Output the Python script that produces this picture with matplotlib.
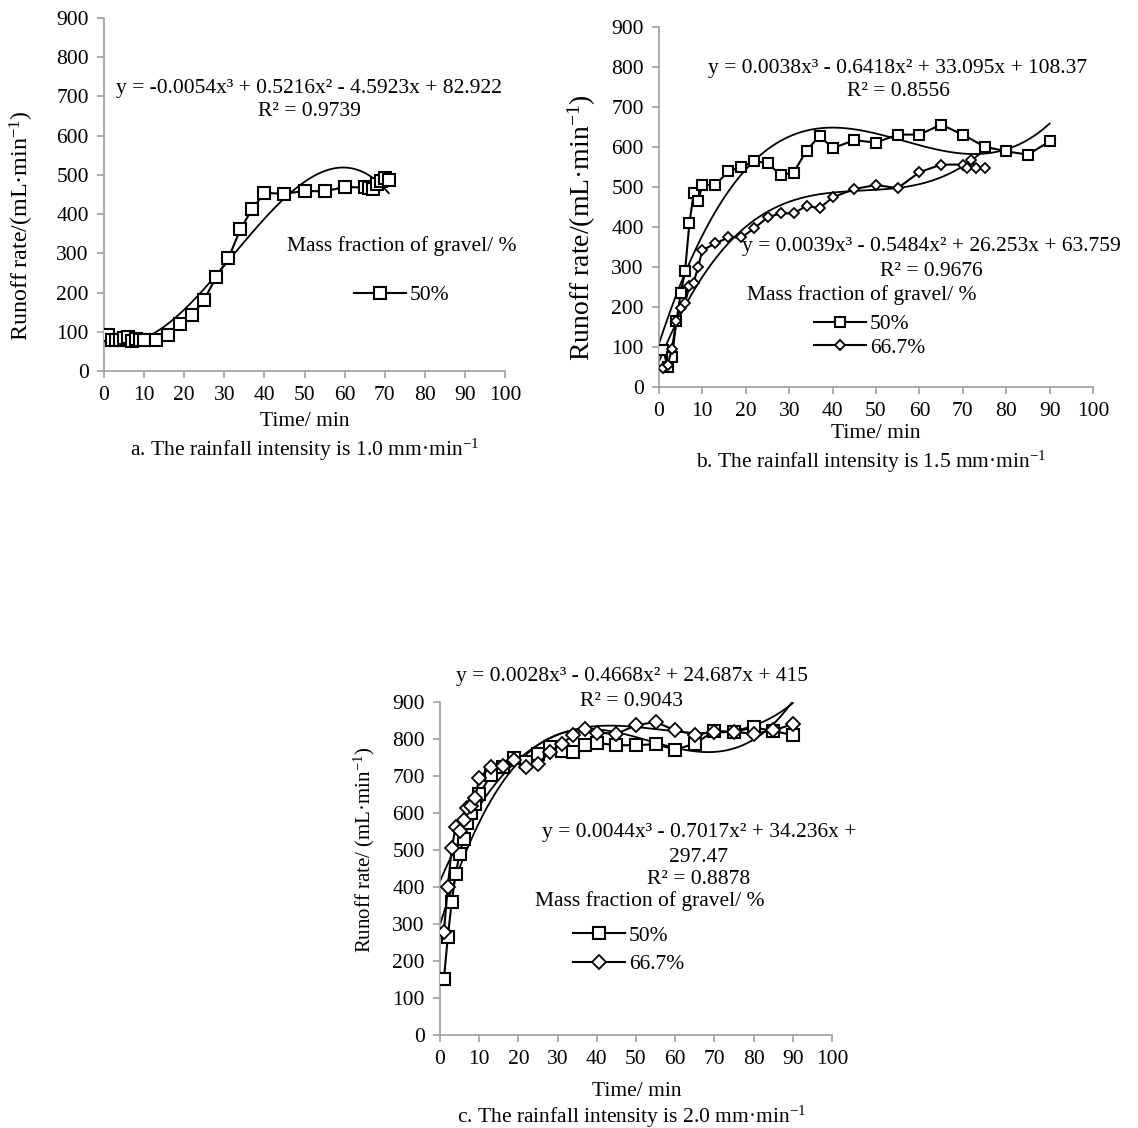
"""Runoff rate vs time under three rainfall intensities, with cubic trendlines."""

import matplotlib

matplotlib.use("Agg")
import matplotlib.pyplot as plt
import numpy as np

plt.rcParams["font.family"] = ["Liberation Serif", "DejaVu Serif"]
plt.rcParams["mathtext.default"] = "regular"

# ---- panel a: 1.0 mm/min, 50 % gravel
a_t = [1, 2, 3, 4, 5, 6, 7, 8, 9, 10, 13, 16, 19, 22, 25, 28, 31, 34, 37, 40,
       45, 50, 55, 60, 65, 66, 67, 68, 69, 70, 71]
a_q = [91, 78, 80, 80, 83, 86, 76, 82, 80, 79, 78, 91, 121, 142, 182, 240, 287, 361, 414, 454,
       452, 459, 458, 469, 468, 467, 463, 478, 485, 491, 486]
a_fit = [-0.0054, 0.5216, -4.5923, 82.922]

# ---- panel b: 1.5 mm/min
b_t50 = [1, 2, 3, 4, 5, 6, 7, 8, 9, 10, 13, 16, 19, 22, 25, 28, 31, 34, 37, 40,
         45, 50, 55, 60, 65, 70, 75, 80, 85, 90]
b_q50 = [92, 50, 75, 165, 234, 290, 409, 484, 465, 505, 506, 539, 551, 564, 560, 530, 536, 591, 628, 597,
         617, 611, 631, 631, 656, 631, 601, 589, 581, 614]
b_t67 = [1, 2, 3, 4, 5, 6, 7, 8, 9, 10, 13, 16, 19, 22, 25, 28, 31, 34, 37, 40,
         45, 50, 55, 60, 65, 70, 71, 72, 73, 75]
b_q67 = [48, 56, 96, 165, 198, 211, 252, 261, 300, 342, 359, 374, 374, 397, 424, 434, 434, 453, 447, 474,
         495, 505, 497, 537, 556, 556, 547, 568, 547, 547]
b_fit50 = [0.0038, -0.6418, 33.095, 108.37]
b_fit67 = [0.0039, -0.5484, 26.253, 63.759]

# ---- panel c: 2.0 mm/min
c_t50 = [1, 2, 3, 4, 5, 6, 7, 8, 9, 10, 13, 16, 19, 22, 25, 28, 31, 34, 37, 40,
         45, 50, 55, 60, 65, 70, 75, 80, 85, 90]
c_q50 = [150, 265, 360, 435, 488, 530, 572, 600, 625, 650, 702, 724, 748, 738, 760, 778, 768, 765, 783, 789,
         783, 783, 786, 771, 787, 822, 819, 831, 822, 810]
c_t67 = [1, 2, 3, 4, 5, 6, 7, 8, 9, 10, 13, 16, 19, 22, 25, 28, 31, 34, 37, 40,
         45, 50, 55, 60, 65, 70, 75, 80, 85, 90]
c_q67 = [278, 400, 505, 562, 550, 580, 612, 618, 640, 695, 724, 728, 743, 724, 733, 765, 787, 810, 828, 817,
         814, 837, 846, 823, 812, 819, 819, 814, 823, 840]
c_fit67 = [0.0028, -0.4668, 24.687, 415]
c_fit50 = [0.0044, -0.7017, 34.236, 297.47]

legend_title = "Mass fraction of gravel/ %"
ylab = "Runoff rate/(mL·min$^{-1}$)"
ylab_c = "Runoff rate/ (mL·min$^{-1}$)"
xlab = "Time/ min"

AXIS_GREY = "#a0a0a0"
FS = 15.5
W, H = 1138, 1128


def put(x, y, s, size=FS, **kw):
    # text placed by pixel position of its centre in the 1138x1128 canvas
    fig.text(x / W, 1 - y / H, s, ha="center", va="center", fontsize=size, **kw)


def style_axes(ax):
    ax.set_xlim(0, 100)
    ax.set_ylim(0, 900)
    ax.set_xticks(range(0, 101, 10))
    ax.set_yticks(range(0, 901, 100))
    for side in ("top", "right"):
        ax.spines[side].set_visible(False)
    for side in ("left", "bottom"):
        ax.spines[side].set_color(AXIS_GREY)
        ax.spines[side].set_linewidth(1.2)
    ax.tick_params(direction="out", length=5, width=1.2, color=AXIS_GREY,
                   labelsize=FS, pad=6)
    ax.patch.set_visible(False)


def trend(ax, coefs, tmax):
    tt = np.linspace(0, tmax, 300)
    ax.plot(tt, np.polyval(coefs, tt), color="black", lw=1.3, zorder=2)


def legend(handles, labels, x, y, spacing=0.3, hl=2.4):
    # x = pixel where the legend line starts, y = pixel centre of the entries
    fig.legend(handles, labels, loc="center left", bbox_to_anchor=(x / W, 1 - y / H),
               frameon=False, fontsize=FS, handlelength=hl, handletextpad=0.2,
               borderpad=0, borderaxespad=0, labelspacing=spacing)


sq = dict(marker="s", mfc="white", mec="black", mew=1.5, color="black", lw=1.5, zorder=3)
dm = dict(marker="D", mfc="white", mec="black", mew=1.3, color="black", lw=1.5, zorder=3)

fig = plt.figure(figsize=(W / 100, H / 100), dpi=100)

# ---------------- a
ax = fig.add_axes([104 / W, 1 - 371 / H, 401 / W, 353 / H])
style_axes(ax)
trend(ax, a_fit, max(a_t))
la, = ax.plot(a_t, a_q, ms=9, **sq)
put(309, 88, "y = -0.0054x³ + 0.5216x² - 4.5923x + 82.922")
put(309, 111, "R² = 0.9739")
put(402, 246, legend_title)
legend([la], ["50%"], 354, 295)
put(22, 226, ylab, size=17.3, rotation=90)
put(305, 422, xlab)
put(305, 450, "a. The rainfall intensity is 1.0 mm·min$^{-1}$")

# ---------------- b
ax = fig.add_axes([659 / W, 1 - 387 / H, 434 / W, 360 / H])
style_axes(ax)
trend(ax, b_fit50, max(b_t50))
trend(ax, b_fit67, max(b_t67))
lb1, = ax.plot(b_t50, b_q50, ms=7.5, **sq)
lb2, = ax.plot(b_t67, b_q67, ms=5, **dm)
put(898, 68, "y = 0.0038x³ - 0.6418x² + 33.095x + 108.37")
put(898, 91, "R² = 0.8556")
put(931, 247, "y = 0.0039x³ - 0.5484x² + 26.253x + 63.759")
put(931, 271, "R² = 0.9676")
put(862, 295, legend_title)
legend([lb1, lb2], ["50%", "66.7%"], 814, 336, spacing=0.15, hl=2.4)
put(582, 228, ylab, size=20, rotation=90)
put(876, 434, xlab)
put(871, 462, "b. The rainfall intensity is 1.5 mm·min$^{-1}$")

# ---------------- c
ax = fig.add_axes([440 / W, 1 - 1034.5 / H, 392 / W, 332.5 / H])
style_axes(ax)
trend(ax, c_fit67, max(c_t67))
trend(ax, c_fit50, max(c_t50))
lc1, = ax.plot(c_t50, c_q50, ms=9, **sq)
lc2, = ax.plot(c_t67, c_q67, ms=7.5, **dm)
put(632, 677, "y = 0.0028x³ - 0.4668x² + 24.687x + 415")
put(632, 701, "R² = 0.9043")
put(699, 833, "y = 0.0044x³ - 0.7017x² + 34.236x +")
put(699, 857, "297.47")
put(699, 880, "R² = 0.8878")
put(650, 901, legend_title)
legend([lc1, lc2], ["50%", "66.7%"], 573, 950, spacing=0.4, hl=2.4)
put(364, 850, ylab_c, size=15, rotation=90)
put(637, 1091, xlab)
put(632, 1117, "c. The rainfall intensity is 2.0 mm·min$^{-1}$")

fig.savefig("out.png", dpi=100, facecolor="white")
plt.close(fig)
